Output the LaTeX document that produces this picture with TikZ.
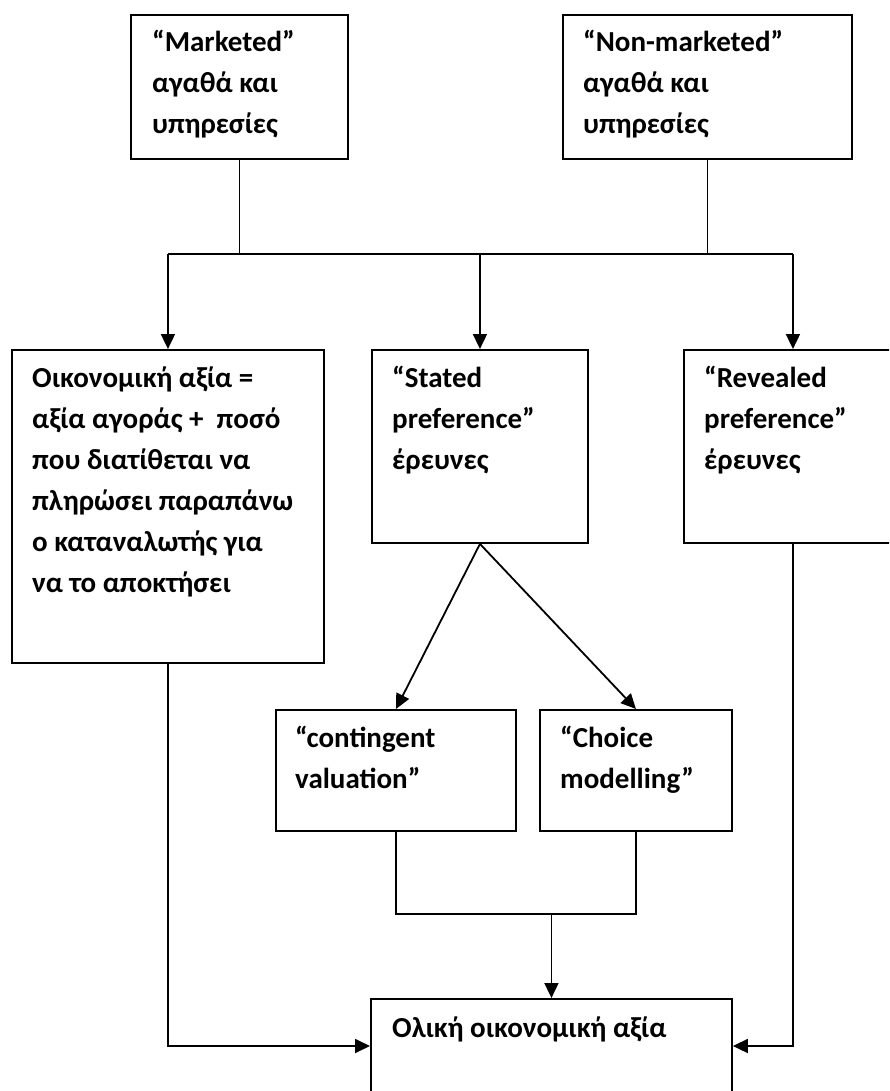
\documentclass[tikz,border=0pt]{standalone}
\usepackage{fontspec}
\setmainfont{Carlito}
\usetikzlibrary{arrows.meta,calc}

\tikzset{
  box/.style={draw, line width=1.9pt, rectangle, inner sep=0pt, anchor=north west},
  txt/.style={anchor=north west, inner sep=0pt, align=left,
    font=\fontsize{29}{41}\selectfont\bfseries,
    execute at begin node={\rule{0pt}{22pt}}},
  wire/.style={line width=1.8pt},
  tip/.style={-{Triangle[length=15pt,width=14pt]}},
  arr/.style={wire, tip}
}

\begin{document}
\begin{tikzpicture}[x=1pt,y=-1pt]
  \useasboundingbox (0,0) rectangle (889,1091);
  \clip (0,0) rectangle (889,1091);

  % boxes
  \node[box, minimum width=217pt, minimum height=144pt] (mk)  at (130,14)  {};
  \node[box, minimum width=289pt, minimum height=144pt] (nmk) at (562,14)  {};
  \node[box, minimum width=312pt, minimum height=313pt] (ev)  at (11,349)  {};
  \node[box, minimum width=216pt, minimum height=193pt] (sp)  at (371,349) {};
  \node[box, minimum width=218pt, minimum height=193pt] (rp)  at (683,349) {};
  \node[box, minimum width=240pt, minimum height=121pt] (cv)  at (275,709) {};
  \node[box, minimum width=192pt, minimum height=121pt] (cm)  at (539,709) {};
  \node[box, minimum width=361pt, minimum height=130pt] (tev) at (370,998) {};

  % labels
  \node[txt] (tmk)  at ($(mk.north west)+(22,16)$)  {“Marketed”\\αγαθά και\\υπηρεσίες};
  \node[txt] (tnmk) at ($(nmk.north west)+(21,16)$) {“Non-marketed”\\αγαθά και\\υπηρεσίες};
  \node[txt] (tev1) at ($(ev.north west)+(21,18)$)  {Οικονομική αξία =\\αξία αγοράς +\ \ ποσό\\που διατίθεται να\\πληρώσει παραπάνω\\ο καταναλωτής για\\να το αποκτήσει};
  \node[txt] (tsp)  at ($(sp.north west)+(21,17)$)  {“Stated\\preference”\\έρευνες};
  \node[txt] (trp)  at ($(rp.north west)+(21,17)$)  {“Revealed\\preference”\\έρευνες};
  \node[txt] (tcv)  at ($(cv.north west)+(20,17)$)  {“contingent\\valuation”};
  \node[txt] (tcm)  at ($(cm.north west)+(21,17)$)  {“Choice\\modelling”};
  \node[txt] (ttev) at ($(tev.north west)+(22,17)$) {Ολική οικονομική αξία};

  % distribution bus below the two goods boxes
  \coordinate (busL) at (ev.north |- 0,254);
  \coordinate (busR) at (rp.north |- 0,254);
  \draw[wire] (mk.south) -- (mk.south |- busL);
  \draw[wire] (nmk.south) -- (nmk.south |- busL);
  \draw[wire] (busL) -- (busR);
  \draw[arr] (busL) -- (ev.north);
  \draw[arr] (sp.north |- busL) -- (sp.north);
  \draw[arr] (busR) -- (rp.north);

  % stated preference methods
  \draw[arr] (sp.south) -- (cv.north);
  \draw[arr] (sp.south) -- (cm.north);

  % merge of the two methods
  \coordinate (mj) at (cv.south |- 0,914);
  \draw[wire] (cv.south) -- (mj) -- (mj -| cm.south) -- (cm.south);
  \draw[arr] (mj -| tev.north) -- (tev.north);

  % side feeds into total value
  \coordinate (inL) at ($(tev.north west)+(0,48)$);
  \coordinate (inR) at ($(tev.north east)+(0,48)$);
  \draw[arr] (ev.south) -- (ev.south |- inL) -- (inL);
  \draw[arr] (rp.south) -- (rp.south |- inR) -- (inR);
\end{tikzpicture}
\end{document}
